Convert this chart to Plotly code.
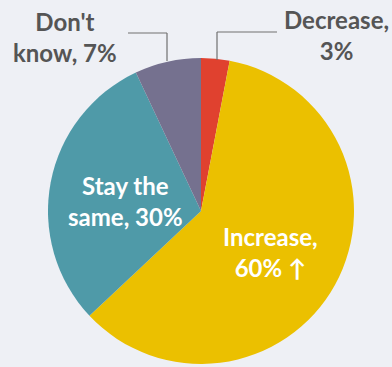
import plotly.graph_objects as go

categories = ["Decrease", "Increase", "Stay the same", "Don't know"]
values = [3, 60, 30, 7]
colors = ["#e0412f", "#ebc000", "#4f9aa8", "#75718f"]

W, H = 392, 367
bg = "#eef0f5"

fig = go.Figure(go.Pie(
    labels=categories, values=values, sort=False, direction="clockwise",
    rotation=0, textinfo="none", hoverinfo="label+percent",
    marker=dict(colors=colors, line=dict(width=0)),
    domain=dict(x=[48 / W, 354 / W], y=[1 - 364 / H, 1 - 58 / H]),
    showlegend=False,
))

font_out = dict(family="Lato, 'Open Sans', sans-serif", size=24, color="#555555")
font_in = dict(family="Lato, 'Open Sans', sans-serif", size=24, color="#ffffff")

def px(x, y):
    return x / W, 1 - y / H

annos = [
    ("<b>Don't<br>know, 7%</b>", 65, 37, font_out),
    ("<b>Decrease,<br>3%</b>", 336, 35, font_out),
    ("<b>Stay the<br>same, 30%</b>", 125, 201, font_in),
    ("<b>Increase,<br>60% \u2191</b>", 270, 252, font_in),
]
for text, x, y, f in annos:
    ax, ay = px(x, y)
    fig.add_annotation(x=ax, y=ay, xref="paper", yref="paper", text=text,
                       showarrow=False, font=f, align="center",
                       xanchor="center", yanchor="middle")

lc = "#707070"
def seg(x0, y0, x1, y1):
    a0, b0 = px(x0, y0)
    a1, b1 = px(x1, y1)
    fig.add_shape(type="line", xref="paper", yref="paper", x0=a0, y0=b0,
                  x1=a1, y1=b1, line=dict(color=lc, width=1.2))

seg(128, 33, 167, 33)
seg(167, 33, 167, 61)
seg(217, 32, 277, 32)
seg(217, 32, 217, 60)

fig.update_layout(width=W, height=H, margin=dict(l=0, r=0, t=0, b=0),
                  paper_bgcolor=bg, plot_bgcolor=bg)
fig.write_html("out.html", config={"displayModeBar": False},
               post_script="document.body.style.margin='0';document.body.style.overflow='hidden';")
